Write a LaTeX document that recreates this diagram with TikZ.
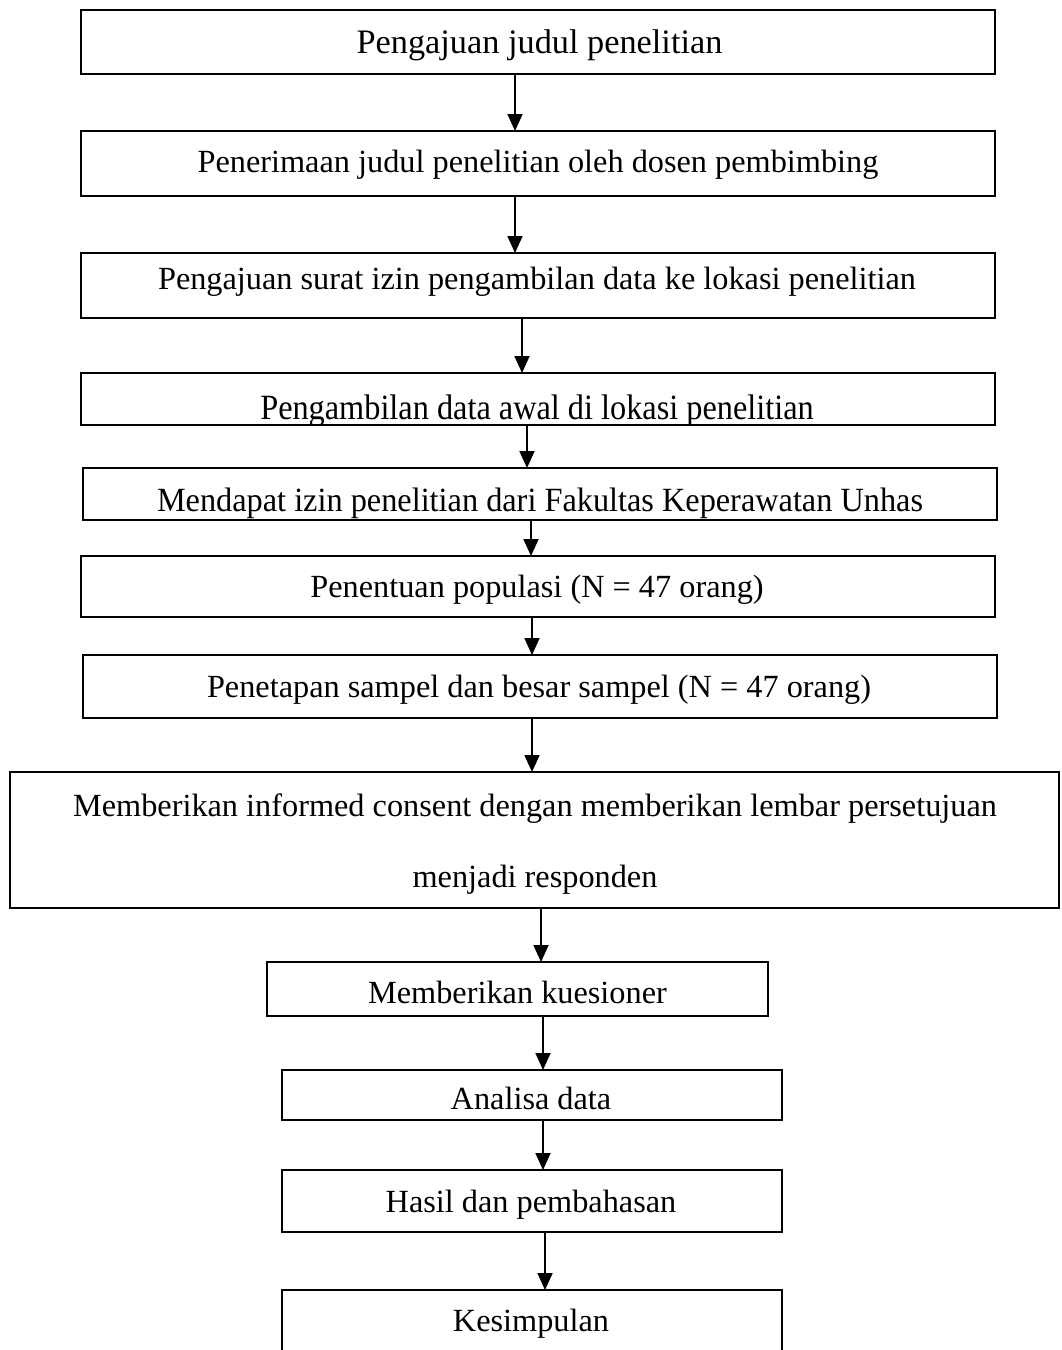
\documentclass[tikz,border=0pt]{standalone}
\usepackage{fontspec}
\setmainfont{Liberation Serif}
\usetikzlibrary{arrows.meta}
\begin{document}
\begin{tikzpicture}[x=1pt,y=-1pt,
  boxnode/.style={draw, line width=1.7pt, inner sep=0pt, outer sep=0pt, fill=none},
  txt/.style={inner sep=0pt, anchor=base, font=\fontsize{32.3}{40}\selectfont},
  arr/.style={line width=1.8pt, -{Triangle[length=17pt,width=15pt]}}]
\useasboundingbox (0,0) rectangle (1061,1350);
\clip (0,0) rectangle (1061,1350);
% boxes
\node[boxnode, minimum width=914pt, minimum height=64pt] (b1) at (538,42) {};
\node[boxnode, minimum width=914pt, minimum height=65pt] (b2) at (538,163.5) {};
\node[boxnode, minimum width=914pt, minimum height=65pt] (b3) at (538,285.5) {};
\node[boxnode, minimum width=914pt, minimum height=52pt] (b4) at (538,399) {};
\node[boxnode, minimum width=914pt, minimum height=52pt] (b5) at (540,494) {};
\node[boxnode, minimum width=914pt, minimum height=61pt] (b6) at (538,586.5) {};
\node[boxnode, minimum width=914pt, minimum height=63pt] (b7) at (540,686.5) {};
\node[boxnode, minimum width=1049pt, minimum height=136pt] (b8) at (534.5,840) {};
\node[boxnode, minimum width=501pt, minimum height=54pt] (b9) at (517.5,989) {};
\node[boxnode, minimum width=500pt, minimum height=50pt] (b10) at (532,1095) {};
\node[boxnode, minimum width=500pt, minimum height=62pt] (b11) at (532,1201) {};
\node[boxnode, minimum width=500pt, minimum height=100pt] (b12) at (532,1340) {};
% texts
\node[txt, font=\fontsize{34.3}{40}\selectfont] (t1) at (539.5,53) {Pengajuan judul penelitian};
\node[txt] (t2) at (538,172) {Penerimaan judul penelitian oleh dosen pembimbing};
\node[txt] (t3) at (537,289) {Pengajuan surat izin pengambilan data ke lokasi penelitian};
\begin{scope}
\clip (b4.south west) rectangle (b4.north east);
\node[txt] (t4) at (537,419) {\scalebox{1}[1.1]{Pengambilan data awal di lokasi penelitian}};
\end{scope}
\begin{scope}
\clip (b5.south west) rectangle (b5.north east);
\node[txt] (t5) at (540,511) {\scalebox{1}[1.05]{Mendapat izin penelitian dari Fakultas Keperawatan Unhas}};
\end{scope}
\node[txt] (t6) at (537,597) {Penentuan populasi (N = 47 orang)};
\node[txt] (t7) at (539,697) {Penetapan sampel dan besar sampel (N = 47 orang)};
\node[txt] (t8a) at (535,816) {Memberikan informed consent dengan memberikan lembar persetujuan};
\node[txt] (t8b) at (535,887) {menjadi responden};
\node[txt] (t9) at (517.5,1003) {Memberikan kuesioner};
\node[txt] (t10) at (531,1109) {Analisa data};
\node[txt] (t11) at (531,1212) {Hasil dan pembahasan};
\node[txt] (t12) at (531,1331) {Kesimpulan};
% arrows
\draw[arr] (b1.south -| 515,0) -- (b2.north -| 515,0);
\draw[arr] (b2.south -| 515,0) -- (b3.north -| 515,0);
\draw[arr] (b3.south -| 522,0) -- (b4.north -| 522,0);
\draw[arr] (b4.south -| 527,0) -- (b5.north -| 527,0);
\draw[arr] (b5.south -| 531,0) -- (b6.north -| 531,0);
\draw[arr] (b6.south -| 532,0) -- (b7.north -| 532,0);
\draw[arr] (b7.south -| 532,0) -- (b8.north -| 532,0);
\draw[arr] (b8.south -| 541,0) -- (b9.north -| 541,0);
\draw[arr] (b9.south -| 543,0) -- (b10.north -| 543,0);
\draw[arr] (b10.south -| 543,0) -- (b11.north -| 543,0);
\draw[arr] (b11.south -| 545,0) -- (b12.north -| 545,0);
\end{tikzpicture}
\end{document}
